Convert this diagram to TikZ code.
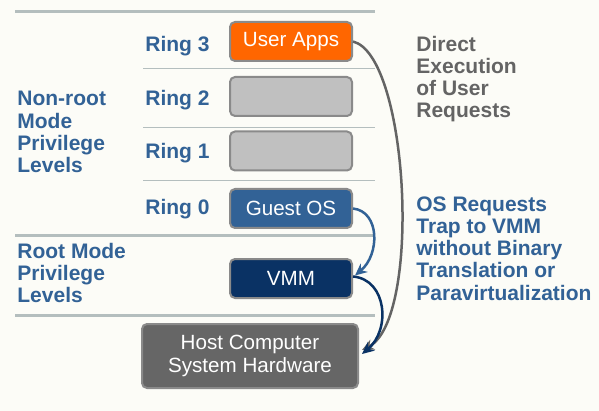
\documentclass[tikz,border=0pt]{standalone}
\usepackage{fontspec}
\setmainfont{Liberation Sans}
\usetikzlibrary{positioning,arrows.meta}
\definecolor{paper}{RGB}{252,252,247}
\definecolor{ringblue}{RGB}{50,98,150}
\definecolor{navy}{RGB}{10,50,100}
\definecolor{userorange}{RGB}{255,102,0}
\definecolor{ringgray}{RGB}{192,192,192}
\definecolor{hostgray}{RGB}{102,102,102}
\definecolor{edgegray}{RGB}{138,138,138}
\definecolor{rulegray}{RGB}{180,190,190}
\definecolor{textgray}{RGB}{100,100,100}

\begin{document}
\begin{tikzpicture}[x=0.5pt,y=-0.5pt,
  ringbox/.style={draw=edgegray,line width=1pt,rounded corners=2.5pt,minimum width=61pt,minimum height=19.5pt,
                  inner sep=0pt,text=white,font=\fontsize{10.3}{11.1}\selectfont},
  side/.style={font=\bfseries\fontsize{10.5}{11.1}\selectfont,align=left,inner sep=0pt,anchor=west},
  ringlbl/.style={font=\bfseries\fontsize{10.5}{11.1}\selectfont,text=ringblue,inner sep=0pt,anchor=base west},
  bigrule/.style={rulegray,line width=1.5pt},
  smallrule/.style={rulegray,line width=0.5pt},
  trap/.style={line width=1.25pt,-{Stealth[length=6pt,width=5.5pt]}}]
  \fill[paper] (0,0) rectangle (599,411);
  \useasboundingbox (0,0) rectangle (599,411);

  % level separators
  \draw[bigrule] (15,12) -- (375,12);
  \draw[smallrule] (143,69) -- (375,69);
  \draw[smallrule] (143,128) -- (375,128);
  \draw[smallrule] (143,181) -- (375,181);
  \draw[bigrule] (15,236) -- (375,236);
  \draw[bigrule] (15,315) -- (375,315);

  % rings
  \node[ringbox,fill=userorange] (uapps) at (291,41.5) {User Apps};
  \node[ringbox,fill=ringgray] (rtwo) at (291,96.5) {};
  \node[ringbox,fill=ringgray] (rone) at (291,151) {};
  \node[ringbox,fill=ringblue] (guest) at (291,208.5) {Guest OS};
  \node[ringbox,fill=navy] (vmm) at (291,278.5) {VMM};
  \node[ringbox,fill=hostgray,minimum width=108pt,minimum height=32pt,align=center] (host) at (250,356)
    {Host Computer\\System Hardware};

  \node[ringlbl] (lthree) at (145,52) {Ring 3};
  \node[ringlbl] (ltwo) at (145,106) {Ring 2};
  \node[ringlbl] (lone) at (145,159) {Ring 1};
  \node[ringlbl] (lzero) at (145,214) {Ring 0};

  \node[side,text=ringblue] (nonroot) at (17,132) {Non-root\\Mode\\Privilege\\Levels};
  \node[side,text=ringblue] (root) at (17,273) {Root Mode\\Privilege\\Levels};
  \node[side,text=textgray] (direct) at (416,79) {Direct\\Execution\\of User\\Requests};
  \node[side,text=ringblue] (osreq) at (416,248.5) {OS Requests\\Trap to VMM\\without Binary\\Translation or\\Paravirtualization};

  \draw[trap,textgray] (uapps.east) .. controls +(56,14) and +(60,-30) .. ([shift={(3,-6)}]host.east);
  \draw[trap,ringblue] (guest.east) .. controls +(27,3) and +(25,-21) .. ([shift={(2,-3)}]vmm.east);
  \draw[trap,navy] ([yshift=1]vmm.east) .. controls +(34,3) and +(29,-24) .. ([shift={(3,-2)}]host.east);
\end{tikzpicture}
\end{document}
